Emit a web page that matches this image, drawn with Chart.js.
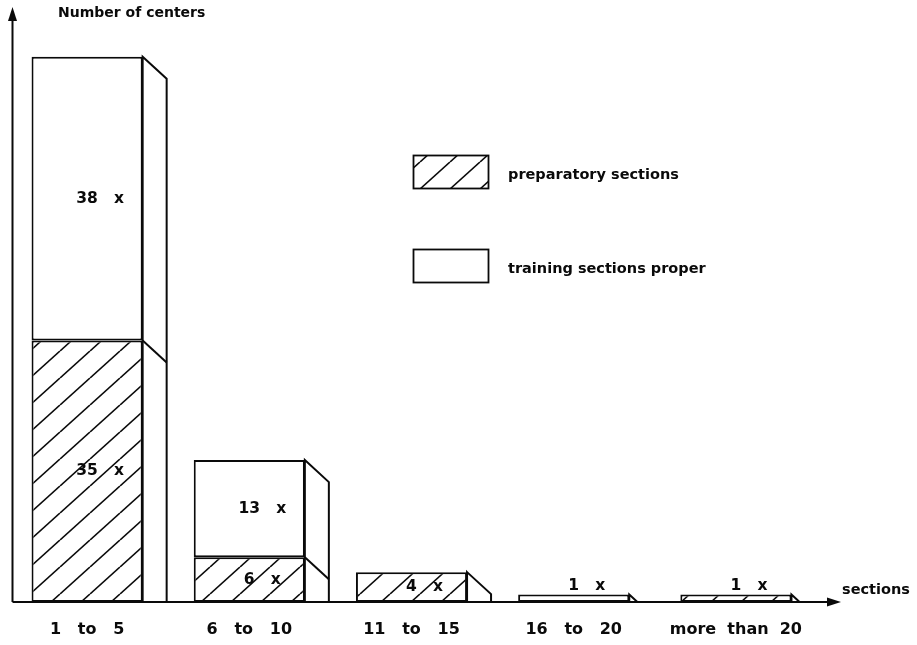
<!DOCTYPE html>
<html lang="en">
<head>
<meta charset="UTF-8">
<title>Number of centers by sections</title>
<script src="https://cdn.jsdelivr.net/npm/chart.js"></script>
<style>
  body { margin: 0; background: #fff; }
  #wrap { width: 917px; height: 645px; }
</style>
</head>
<body>
<div id="wrap"><canvas id="chart" width="917" height="645"></canvas></div>
<script>
// data
const categories = ['1   to   5', '6   to   10', '11   to   15', '16   to   20', 'more  than  20'];
const preparatory = [35, 6, 4, 0, 1];
const trainingProper = [38, 13, 0, 1, 0];
const legendLabels = ['preparatory sections', 'training sections proper'];
const yTitle = 'Number of centers';
const xTitle = 'sections';
const yMax = 79;

const INK = '#0a0a0a';
const FONT = '"DejaVu Sans", sans-serif';

Chart.defaults.font.family = FONT;
Chart.defaults.font.weight = 'bold';
Chart.defaults.color = INK;

// diagonal "/" hatching
function hatchPattern(ctx) {
  const w = 30, h = 27;
  const c = document.createElement('canvas');
  c.width = w; c.height = h;
  const p = c.getContext('2d');
  p.fillStyle = '#fff';
  p.fillRect(0, 0, w, h);
  p.strokeStyle = INK;
  p.lineWidth = 1.6;
  for (const dx of [-w, 0, w]) {
    p.beginPath();
    p.moveTo(dx, h);
    p.lineTo(dx + w, 0);
    p.stroke();
  }
  return ctx.createPattern(c, 'repeat');
}

const canvas = document.getElementById('chart');
const ctx = canvas.getContext('2d');
const hatch = hatchPattern(ctx);

// the slanted side face of each bar
const depthX = 24, depthY = 22;
const sidePlugin = {
  id: 'sides',
  afterDatasetsDraw(chart) {
    const c = chart.ctx;
    const base = chart.scales.y.getPixelForValue(0);
    categories.forEach((_, i) => {
      const segs = chart.data.datasets
        .map((ds, d) => ({ el: chart.getDatasetMeta(d).data[i], v: ds.data[i] }))
        .filter(s => s.v);
      if (!segs.length) return;
      const topEl = segs[segs.length - 1].el;
      const right = topEl.x + topEl.width / 2;
      const yTop = topEl.y;
      c.save();
      c.beginPath();
      c.rect(right - 3, 0, depthX + 6, base);
      c.clip();
      c.beginPath();
      c.moveTo(right, yTop);
      c.lineTo(right + depthX, yTop + depthY);
      c.lineTo(right + depthX, base);
      c.lineTo(right, base);
      c.closePath();
      c.fillStyle = '#fff';
      c.fill();
      c.strokeStyle = INK;
      c.lineWidth = 2;
      c.stroke();
      segs.slice(0, -1).forEach(s => {
        c.beginPath();
        c.moveTo(right, s.el.y);
        c.lineTo(right + depthX, s.el.y + depthY);
        c.stroke();
      });
      c.restore();
    });
  }
};

// axes with arrows, titles, legend and value labels
const decorPlugin = {
  id: 'decor',
  afterDraw(chart) {
    const c = chart.ctx;
    const base = chart.scales.y.getPixelForValue(0);
    const ax = 12.5;
    c.save();
    c.strokeStyle = INK;
    c.fillStyle = INK;
    c.lineWidth = 2;
    // y axis
    c.beginPath();
    c.moveTo(ax, base);
    c.lineTo(ax, 18);
    c.stroke();
    c.beginPath();
    c.moveTo(ax, 7);
    c.lineTo(ax - 4.5, 21);
    c.lineTo(ax + 4.5, 21);
    c.closePath();
    c.fill();
    // x axis
    c.beginPath();
    c.moveTo(ax, base);
    c.lineTo(830, base);
    c.stroke();
    c.beginPath();
    c.moveTo(841, base);
    c.lineTo(827, base - 4.5);
    c.lineTo(827, base + 4.5);
    c.closePath();
    c.fill();

    c.textBaseline = 'middle';
    c.textAlign = 'left';
    c.font = 'bold 14px ' + FONT;
    c.fillText(yTitle, 58, 13);
    c.font = 'bold 14.5px ' + FONT;
    c.fillText(xTitle, 842, 590);

    // legend
    const boxes = [{ y: 155.5, fill: hatch }, { y: 249.5, fill: '#fff' }];
    boxes.forEach((b, i) => {
      c.fillStyle = b.fill;
      c.fillRect(413.5, b.y, 75, 33);
      c.strokeStyle = INK;
      c.lineWidth = 1.8;
      c.strokeRect(413.5, b.y, 75, 33);
      c.fillStyle = INK;
      c.font = 'bold 14.5px ' + FONT;
      c.fillText(legendLabels[i], 508, b.y + 20);
    });

    // value labels
    c.font = 'bold 15.5px ' + FONT;
    c.textAlign = 'center';
    chart.data.datasets.forEach((ds, d) => {
      chart.getDatasetMeta(d).data.forEach((el, i) => {
        const v = ds.data[i];
        if (!v) return;
        const h = el.base - el.y;
        const y = h < 22 ? el.y - 9 : (el.y + el.base) / 2;
        c.fillText(v + '   x', el.x + 13, y);
      });
    });
    c.restore();
  }
};

new Chart(ctx, {
  type: 'bar',
  data: {
    labels: categories,
    datasets: [
      {
        label: legendLabels[0],
        data: preparatory.map(v => v || null),
        backgroundColor: hatch,
        borderColor: INK,
        borderWidth: 2,
        borderSkipped: false
      },
      {
        label: legendLabels[1],
        data: trainingProper.map(v => v || null),
        backgroundColor: '#fff',
        borderColor: INK,
        borderWidth: 2,
        borderSkipped: false
      }
    ]
  },
  options: {
    responsive: false,
    animation: false,
    layout: { padding: { left: 6, right: 100, top: 12, bottom: 0 } },
    datasets: { bar: { categoryPercentage: 0.685, barPercentage: 1 } },
    plugins: { legend: { display: false }, tooltip: { enabled: false } },
    scales: {
      x: {
        stacked: true,
        grid: { display: false, drawTicks: false },
        border: { display: false },
        ticks: { color: INK, font: { size: 16, weight: 'bold' }, padding: 18, maxRotation: 0 },
        afterFit(s) { s.height = 43; }
      },
      y: { stacked: true, display: false, min: 0, max: yMax }
    }
  },
  plugins: [sidePlugin, decorPlugin]
});
</script>
</body>
</html>
